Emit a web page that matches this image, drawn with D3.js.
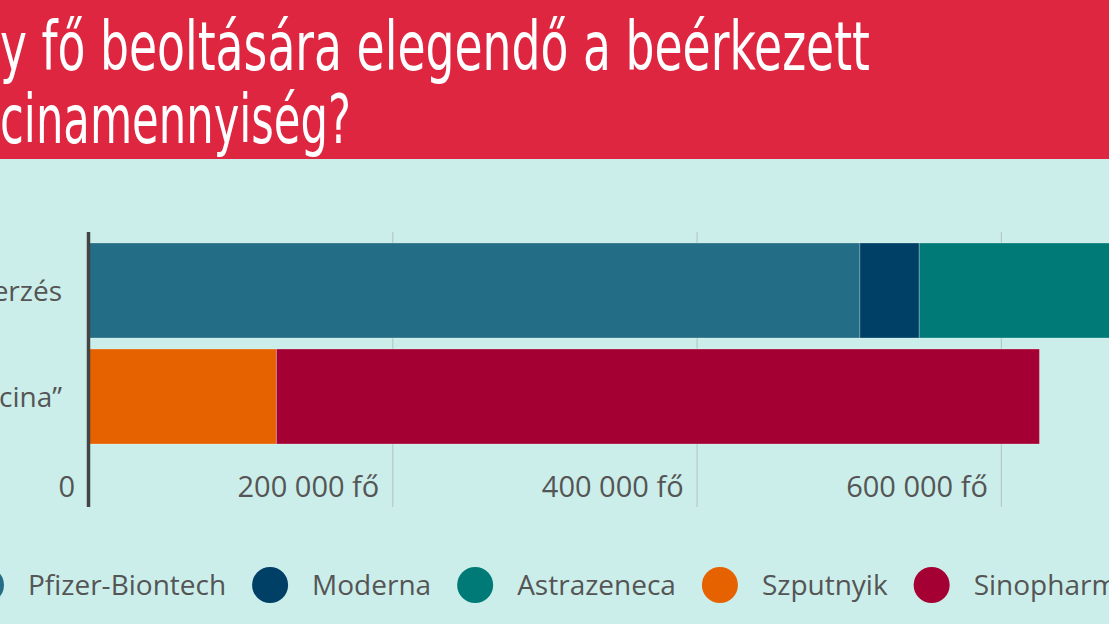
<!DOCTYPE html>
<html>
<head>
<meta charset="utf-8">
<script src="https://cdn.jsdelivr.net/npm/d3@7"></script>
<style>
  html, body { margin: 0; padding: 0; background: #cbeeea; overflow: hidden; }
</style>
</head>
<body>
<div id="chart"></div>
<script>
// chart data
const titleLines = ["Hány fő beoltására elegendő a beérkezett", "vakcinamennyiség?"];
const categories = ["Uniós beszerzés", "„Keleti vakcina”"];
const vaccines = ["Pfizer-Biontech", "Moderna", "Astrazeneca", "Szputnyik", "Sinopharm"];
const vaccineColors = ["#236d86", "#003f66", "#007a76", "#e66100", "#a50034"];
const pfizer = [507000, 0];
const moderna = [39000, 0];
const astrazeneca = [170000, 0];
const szputnyik = [0, 123500];
const sinopharm = [0, 501500];
const tickValues = [0, 200000, 400000, 600000];

const ctx = {
    W: 1109,
    H: 624,
    HEADER_H: 159,
};

function createViz() {
    const svg = d3.select("#chart").append("svg")
        .attr("width", ctx.W)
        .attr("height", ctx.H)
        .style("display", "block");

    svg.append("rect")
        .attr("width", ctx.W).attr("height", ctx.H)
        .attr("fill", "#cbeeea");

    // red header
    svg.append("rect")
        .attr("width", ctx.W).attr("height", ctx.HEADER_H)
        .attr("fill", "#df2640");

    drawTitle(svg);
    drawBars(svg);
    drawLegend(svg);
}

function drawTitle(svg) {
    // the visible part of each line is squeezed to the width seen in the picture
    const fits = [
        { visible: "y fő beoltására elegendő a beérkezett", right: 870, y: 70 },
        { visible: "cinamennyiség?", right: 351, y: 143 },
    ];
    fits.forEach((f, i) => {
        const probe = svg.append("text")
            .attr("font-family", "'Liberation Sans Narrow', 'DejaVu Sans Condensed', sans-serif")
            .attr("font-size", 68)
            .text(f.visible);
        const w = probe.node().getComputedTextLength();
        probe.remove();
        const sx = f.right / w;
        svg.append("text")
            .attr("transform", `translate(${f.right},${f.y}) scale(${sx},1)`)
            .attr("text-anchor", "end")
            .attr("font-family", "'Liberation Sans Narrow', 'DejaVu Sans Condensed', sans-serif")
            .attr("font-size", 68)
            .attr("fill", "white")
            .text(titleLines[i]);
    });
}

function drawBars(svg) {
    const x = d3.scaleLinear()
        .domain([0, 800000])
        .range([88.5, 88.5 + 304.3 * 4]);

    const y = d3.scaleBand()
        .domain(categories)
        .range([237.5, 449.5])
        .paddingInner(0.104)
        .paddingOuter(0.052);

    const rows = categories.map((c, i) => ({
        cat: c,
        "Pfizer-Biontech": pfizer[i],
        "Moderna": moderna[i],
        "Astrazeneca": astrazeneca[i],
        "Szputnyik": szputnyik[i],
        "Sinopharm": sinopharm[i],
    }));
    const series = d3.stack().keys(vaccines)(rows);
    const color = d3.scaleOrdinal().domain(vaccines).range(vaccineColors);

    // grid lines
    svg.append("g")
        .selectAll("line")
        .data(tickValues.filter(t => t > 0))
        .join("line")
        .attr("x1", d => x(d)).attr("x2", d => x(d))
        .attr("y1", 232).attr("y2", 507)
        .attr("stroke", "#b5c9c7")
        .attr("stroke-width", 1.2);

    svg.append("g")
        .selectAll("g")
        .data(series)
        .join("g")
        .attr("fill", d => color(d.key))
        .selectAll("rect")
        .data(d => d.filter(p => p[1] - p[0] > 0))
        .join("rect")
        .attr("x", d => x(d[0]))
        .attr("width", d => x(d[1]) - x(d[0]))
        .attr("y", d => y(d.data.cat))
        .attr("height", y.bandwidth())
        .attr("stroke", "rgba(255,255,255,0.25)")
        .attr("stroke-width", 1);

    // tick labels
    svg.append("g")
        .selectAll("text")
        .data(tickValues)
        .join("text")
        .attr("x", d => x(d) - 13.5)
        .attr("y", 497)
        .attr("text-anchor", "end")
        .attr("font-family", "'Open Sans', sans-serif")
        .attr("font-size", 29)
        .attr("fill", "#555")
        .text(d => d === 0 ? "0" : d3.format(",")(d).replace(/,/g, " ") + " fő");

    // category labels
    svg.append("g")
        .selectAll("text")
        .data(categories)
        .join("text")
        .attr("x", 62)
        .attr("y", d => y(d) + y.bandwidth() / 2 + 10)
        .attr("text-anchor", "end")
        .attr("font-family", "'Open Sans', sans-serif")
        .attr("font-size", 28)
        .attr("fill", "#555")
        .text(d => d);

    // zero axis line
    svg.append("line")
        .attr("x1", x(0)).attr("x2", x(0))
        .attr("y1", 232).attr("y2", 507)
        .attr("stroke", "#444")
        .attr("stroke-width", 3.5);
}

function drawLegend(svg) {
    const legend = svg.append("g");
    let cx = -14;
    vaccines.forEach((v, i) => {
        legend.append("circle")
            .attr("cx", cx).attr("cy", 585)
            .attr("r", 18)
            .attr("fill", vaccineColors[i]);
        const t = legend.append("text")
            .attr("x", cx + 42)
            .attr("y", 595)
            .attr("font-family", "'Open Sans', sans-serif")
            .attr("font-size", 28)
            .attr("fill", "#555")
            .text(v);
        cx = cx + 42 + t.node().getComputedTextLength() + 44;
    });
}

createViz();
</script>
</body>
</html>
